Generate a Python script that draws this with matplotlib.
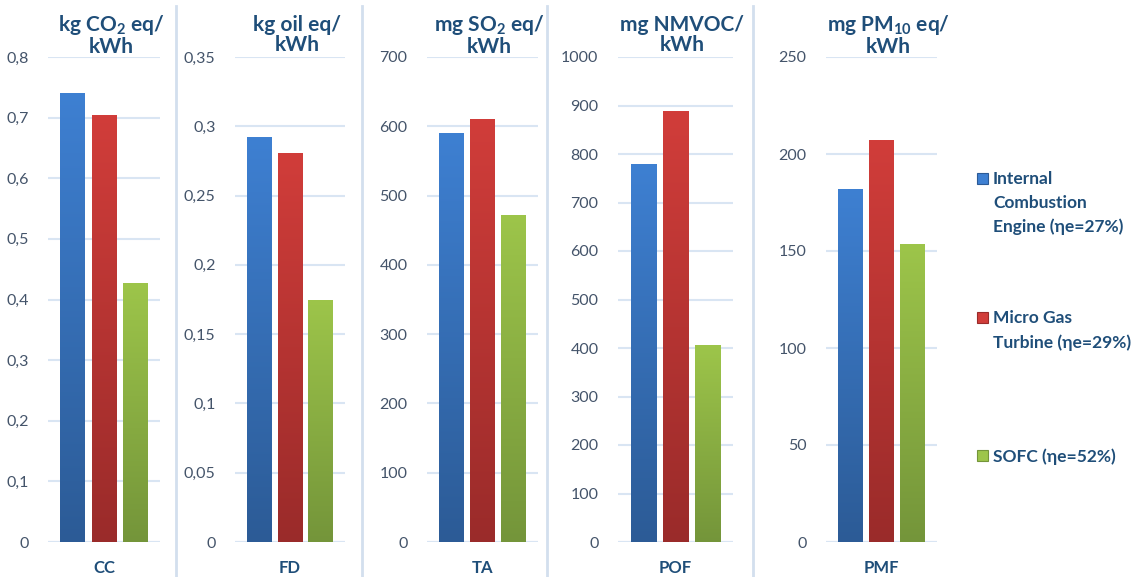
"""
Сравнение воздействия трёх технологий по пяти категориям (CC, FD, TA, POF, PMF).
"""

import matplotlib.pyplot as plt
import numpy as np
from matplotlib.colors import LinearSegmentedColormap
from matplotlib.patches import Rectangle
from matplotlib.lines import Line2D

plt.rcParams["font.family"] = ["Lato", "DejaVu Sans"]
plt.rcParams["mathtext.fontset"] = "custom"
plt.rcParams["mathtext.rm"] = "Lato:bold"
plt.rcParams["mathtext.bf"] = "Lato:bold"
plt.rcParams["mathtext.it"] = "Lato:bold"

# данные
categories = ["CC", "FD", "TA", "POF", "PMF"]
units = [r"kg CO$_2$ eq/" + "\nkWh", "kg oil eq/\nkWh", r"mg SO$_2$ eq/" + "\nkWh",
         "mg NMVOC/\nkWh", r"mg PM$_{10}$ eq/" + "\nkWh"]
technologies = ["Internal\nCombustion\nEngine (ηe=27%)", "Micro Gas\nTurbine (ηe=29%)", "SOFC (ηe=52%)"]
ice = [0.741, 0.292, 591, 780, 182]
mgt = [0.704, 0.281, 611, 888, 207]
sofc = [0.428, 0.175, 472, 406, 153.5]
y_max = [0.8, 0.35, 700, 1000, 250]
y_step = [0.1, 0.05, 100, 100, 50]

# градиенты: светлый сверху, тёмный снизу
grad = [("#2c5b96", "#3e80d2"), ("#9a2b2a", "#d13d3a"), ("#74953a", "#9dc54a")]
cmaps = [LinearSegmentedColormap.from_list(f"g{i}", c) for i, c in enumerate(grad)]

TITLE = "#1f4e79"
TICK = "#44546a"
GRID = "#d9e5f3"

W, H = 1140, 577
fig = plt.figure(figsize=(W / 100, H / 100), dpi=100)

lefts = [48, 235, 427, 618, 826]
widths = [112, 110, 111, 115, 111]
y0, y1 = 542, 57

for i, cat in enumerate(categories):
    ax = fig.add_axes([lefts[i] / W, 1 - y0 / H, widths[i] / W, (y0 - y1) / H])
    vals = [ice[i], mgt[i], sofc[i]]
    bars = ax.bar([-1, 0, 1], vals, width=0.8, color="none", zorder=3)
    g = np.linspace(0, 1, 256).reshape(-1, 1)
    for b, cm in zip(bars, cmaps):
        x, w, h = b.get_x(), b.get_width(), b.get_height()
        im = ax.imshow(g, cmap=cm, origin="lower", aspect="auto",
                       extent=(x, x + w, 0, h), zorder=3)
        im.set_clip_path(b)
    ax.set_xlim(-1.8, 1.8)
    ax.set_ylim(0, y_max[i])
    ticks = np.arange(0, y_max[i] + y_step[i] / 2, y_step[i])
    ax.set_yticks(ticks)
    ax.set_yticklabels([f"{round(t, 2):g}".replace(".", ",") for t in ticks])
    ax.grid(axis="y", color=GRID, lw=1.5, zorder=0)
    ax.set_axisbelow(True)
    ax.set_xticks([0])
    ax.set_xticklabels([cat], fontweight="bold", color=TITLE, fontsize=12)
    ax.tick_params(axis="x", length=0, pad=13)
    ax.tick_params(axis="y", length=0, pad=14, labelcolor=TICK, labelsize=11.5)
    for s in ax.spines.values():
        s.set_visible(False)
    ax.axhline(0, color=GRID, lw=1.5, zorder=1)
    cx = (lefts[i] + widths[i] / 2 + 7) / W
    fig.text(cx, 1 - 35 / H, units[i], ha="center", va="center", ma="center",
             fontsize=15, fontweight="bold", color=TITLE, linespacing=1.02)

# вертикальные разделители
for xs in [176, 362, 547, 753]:
    fig.add_artist(Line2D([xs / W, xs / W], [0, 1 - 6 / H], color="#d3dfee", lw=2))

# легенда
leg_y = [172, 311, 449]
for (c_lo, c_hi), lab, ly in zip(grad, technologies, leg_y):
    fig.add_artist(Rectangle((977 / W, 1 - (ly + 12) / H), 11 / W, 11 / H,
                             facecolor=c_hi, edgecolor=c_lo, lw=0.8))
    fig.text(993 / W, 1 - (ly - 1) / H, lab, ha="left", va="top", fontsize=12.5,
             fontweight="bold", color=TITLE, linespacing=1.6)

fig.savefig("out.png", dpi=100)
plt.close(fig)
